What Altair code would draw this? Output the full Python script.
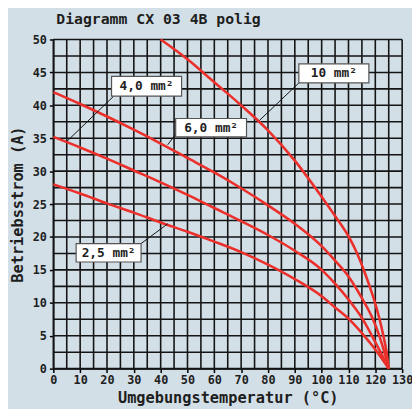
import altair as alt
import pandas as pd

# ---- data ----
temp_25 = [0, 10, 20, 30, 40, 50, 60, 70, 80, 90, 100, 105, 110, 115, 120, 125]
curr_25 = [28, 26.6, 25.1, 23.7, 22.2, 20.8, 19.3, 17.7, 15.8, 13.6, 11.0, 9.3, 7.6, 5.4, 2.9, 0]

temp_40 = [0, 10, 20, 30, 40, 50, 60, 70, 80, 90, 100, 105, 110, 115, 118.6, 121.7, 125]
curr_40 = [35.2, 33.6, 31.9, 30.1, 28.3, 26.4, 24.4, 22.4, 20.3, 17.9, 15.0, 12.9, 10.5, 7.7, 5.1, 2.7, 0]

temp_60 = [0, 10, 20, 30, 40, 50, 60, 70, 80, 90, 100, 105, 110, 115, 119, 121.4, 123.3, 125]
curr_60 = [42, 40.2, 38.3, 36.3, 34.2, 32, 29.8, 27.4, 24.8, 22.0, 18.6, 16.4, 14.0, 10.7, 7.6, 5.1, 2.6, 0]

temp_10 = [40, 50, 60, 70, 80, 90, 100, 105, 110.7, 113.1, 115.6, 117.8, 119.9, 121.4, 122.9, 124.1, 125]
curr_10 = [50, 47, 43.5, 40, 36.2, 31.6, 26.1, 23.2, 19.6, 17.6, 15.1, 12.6, 10.0, 7.8, 5.2, 2.7, 0]

x_ticks = list(range(0, 131, 10))
y_ticks = list(range(0, 51, 5))
x_grid = list(range(0, 131, 5))
y_grid = [i * 2.5 for i in range(21)]

# label boxes (annotation positions in data units)
lab_text = ["4,0 mm²", "6,0 mm²", "10 mm²", "2,5 mm²"]
lab_x1 = [21.7, 45.6, 91.5, 8.5]
lab_x2 = [47.8, 72.0, 117.6, 32.7]
lab_y1 = [41.4, 35.2, 43.4, 16.2]
lab_y2 = [44.4, 38.0, 46.3, 19.0]
lead_x1 = [22.5, 45.6, 91.5, 32.7]
lead_y1 = [41.4, 35.6, 43.4, 19.0]
lead_x2 = [5.0, 42.6, 76.8, 42.6]
lead_y2 = [34.5, 34.0, 37.7, 22.0]

# ---- build tables ----
rows = []
for name, xs, ys in [("2,5", temp_25, curr_25), ("4,0", temp_40, curr_40),
                     ("6,0", temp_60, curr_60), ("10", temp_10, curr_10)]:
    for a, b in zip(xs, ys):
        rows.append({"s": name, "x": a, "y": b})
curves = pd.DataFrame(rows)

labels = pd.DataFrame({"t": lab_text, "x": lab_x1, "x2": lab_x2, "y": lab_y1, "y2": lab_y2,
                       "xc": [(a + b) / 2 for a, b in zip(lab_x1, lab_x2)],
                       "yc": [(a + b) / 2 for a, b in zip(lab_y1, lab_y2)]})
leaders = pd.DataFrame({"x": lead_x1, "y": lead_y1, "x2": lead_x2, "y2": lead_y2})

FONT = "DejaVu Sans Mono"
INK = "#1e1e1e"

xs = alt.Scale(domain=[0, 130], nice=False, zero=False)
ys = alt.Scale(domain=[0, 50], nice=False)
xaxis = alt.Axis(values=x_ticks, grid=False, title="Umgebungstemperatur (°C)",
                 labelFont=FONT, labelFontWeight="bold", labelFontSize=12, labelColor=INK,
                 titleFont=FONT, titleFontWeight="bold", titleFontSize=15.5, titleColor=INK,
                 domainColor="#000", domainWidth=1.5, tickColor="#000", tickWidth=1.5, tickSize=4,
                 labelPadding=2, titlePadding=5, labelFlush=False)
yaxis = alt.Axis(values=y_ticks, grid=False, title="Betriebsstrom (A)",
                 labelFont=FONT, labelFontWeight="bold", labelFontSize=12, labelColor=INK,
                 titleFont=FONT, titleFontWeight="bold", titleFontSize=15.5, titleColor=INK,
                 domainColor="#000", domainWidth=1.5, tickColor="#000", tickWidth=1.5, tickSize=4,
                 labelPadding=3, titlePadding=7)

def X(f):
    return alt.X(f, type="quantitative", scale=xs, axis=xaxis)

def Y(f):
    return alt.Y(f, type="quantitative", scale=ys, axis=yaxis)

gx = alt.Chart(pd.DataFrame({"x": x_grid})).mark_rule(color="#141414", strokeWidth=1.6).encode(x=X("x"))
gy = alt.Chart(pd.DataFrame({"y": y_grid})).mark_rule(color="#141414", strokeWidth=1.6).encode(y=Y("y"))

lines = alt.Chart(curves).mark_line(color="#ec2f2a", strokeWidth=2.6, interpolate="monotone").encode(
    x=X("x"), y=Y("y"), detail="s:N")

lead = alt.Chart(leaders).mark_rule(color="#111", strokeWidth=1).encode(
    x=X("x"), y=Y("y"), x2="x2", y2="y2")

boxes = alt.Chart(labels).mark_rect(fill="white", stroke="#555", strokeWidth=1.2).encode(
    x=X("x"), x2="x2", y=Y("y"), y2="y2")

texts = alt.Chart(labels).mark_text(font=FONT, fontWeight="bold", fontSize=13, color=INK,
                                    align="center", baseline="middle").encode(
    x=X("xc"), y=Y("yc"), text="t:N")

chart = alt.layer(gx, gy, lines, lead, boxes, texts).properties(
    width=354, height=334,
    title=alt.TitleParams("Diagramm CX 03 4B polig", anchor="start", frame="group", font=FONT,
                          fontSize=15, fontWeight="bold", color=INK, dx=3, offset=7),
    autosize=alt.AutoSizeParams(type="none"),
    padding={"left": 46, "top": 29, "right": 10, "bottom": 38},
).configure(background="#d3dfe7").configure_view(stroke=None)

chart.save("out.html", embed_options={"renderer": "svg", "actions": False})
